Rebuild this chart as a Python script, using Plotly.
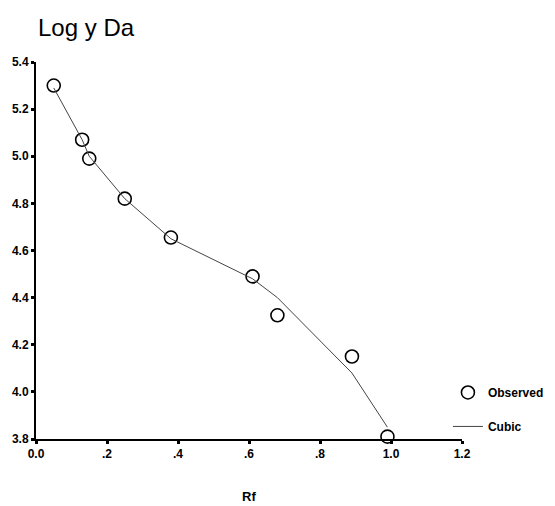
import plotly.graph_objects as go

rf = [0.05, 0.13, 0.15, 0.25, 0.38, 0.61, 0.68, 0.89, 0.99]
observed = [5.30, 5.07, 4.99, 4.82, 4.655, 4.49, 4.325, 4.15, 3.81]
cubic = [5.29, 5.07, 5.00, 4.82, 4.65, 4.48, 4.40, 4.08, 3.85]

x_tickvals = [0.0, 0.2, 0.4, 0.6, 0.8, 1.0, 1.2]
x_ticktext = ["0.0", ".2", ".4", ".6", ".8", "1.0", "1.2"]
y_tickvals = [3.8, 4.0, 4.2, 4.4, 4.6, 4.8, 5.0, 5.2, 5.4]
y_ticktext = ["3.8", "4.0", "4.2", "4.4", "4.6", "4.8", "5.0", "5.2", "5.4"]

FONT = "Liberation Sans, Arial, sans-serif"
W, H = 547, 498  # page adds 8px body margin

fig = go.Figure()
fig.add_trace(go.Scatter(
    x=rf, y=observed, mode="markers", name="Observed", legendgroup="obs",
    marker=dict(symbol="circle-open", size=13, color="black", line=dict(width=1.6, color="black")),
    cliponaxis=False,
))
fig.add_trace(go.Scatter(
    x=rf, y=cubic, mode="lines", name="Cubic", legendgroup="cub",
    line=dict(color="#444444", width=1),
    cliponaxis=False,
))

fig.update_layout(
    width=W, height=H,
    margin=dict(l=28, r=93, t=54, b=67, autoexpand=False),
    paper_bgcolor="white", plot_bgcolor="white",
    font=dict(family=FONT, size=12, color="black"),
    title=dict(text="Log y Da", x=30/W, xanchor="left", y=1 - 20/H, yanchor="middle",
               font=dict(family=FONT, size=24, color="black")),
    showlegend=True,
    legend=dict(x=0.967, xanchor="left", y=0.162, yanchor="top",
                font=dict(family=FONT, size=12, color="black", weight="bold"),
                bgcolor="rgba(0,0,0,0)", tracegroupgap=15, itemwidth=30),
    xaxis=dict(range=[0, 1.2], tickvals=x_tickvals, ticktext=x_ticktext,
               showgrid=False, zeroline=False, showline=True, linecolor="black", linewidth=2,
               ticks="outside", ticklen=3, tickwidth=3, tickcolor="black",
               tickfont=dict(family=FONT, size=12, color="black", weight="bold")),
    yaxis=dict(range=[3.8, 5.4], tickvals=y_tickvals, ticktext=y_ticktext,
               showgrid=False, zeroline=False, showline=True, linecolor="black", linewidth=2,
               ticks="outside", ticklen=3, tickwidth=3, tickcolor="black",
               tickfont=dict(family=FONT, size=12, color="black", weight="bold")),
    annotations=[dict(text="Rf", xref="paper", yref="paper", x=0.5, y=-0.153,
                      xanchor="center", yanchor="middle", showarrow=False,
                      font=dict(family=FONT, size=13, color="black", weight="bold"))],
)

fig.write_html("out.html")
